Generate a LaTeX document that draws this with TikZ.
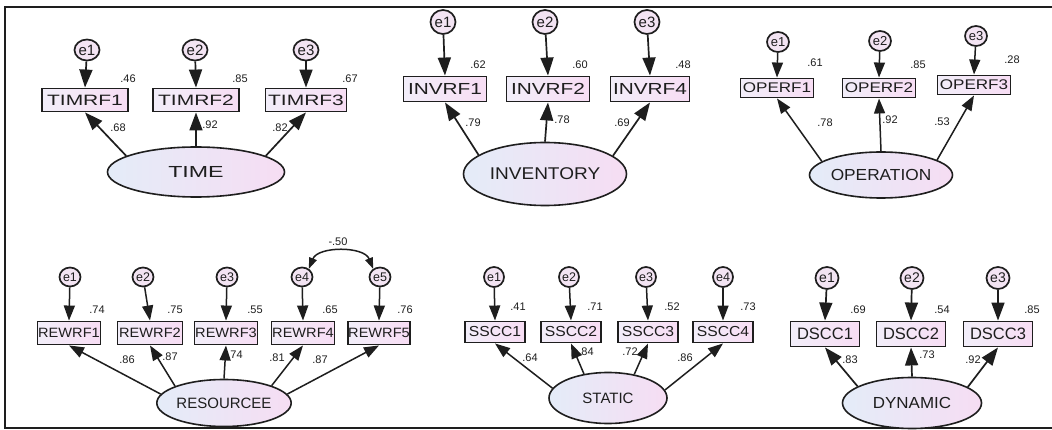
\documentclass[tikz,border=0pt]{standalone}
\usepackage{fontspec}
\setmainfont{Liberation Sans}
\usetikzlibrary{arrows.meta,shapes.geometric}
\definecolor{boxL}{HTML}{F2EEF9}
\definecolor{boxR}{HTML}{F7DDF4}
\definecolor{ellL}{HTML}{E4ECF8}
\definecolor{ellR}{HTML}{F6DDF3}
\definecolor{errC}{HTML}{F3E4F3}
\definecolor{ink}{HTML}{1E1E1E}
\newcommand{\sx}[2]{\scalebox{#1}[1]{#2}}
\newcommand{\fsz}[1]{\fontsize{#1}{#1}\selectfont}
\tikzset{
  obs/.style={draw=ink, line width=1.9pt, left color=boxL, right color=boxR, inner sep=0pt, text=ink},
  lat/.style={ellipse, draw=ink, line width=1.6pt, left color=ellL, right color=ellR, inner sep=0pt, text=ink},
  err/.style={ellipse, draw=ink, line width=1.7pt, fill=errC, inner sep=0pt, text=ink},
  arr/.style={draw=ink, line width=1.7pt, -{Triangle[length=18pt,width=13pt]}},
  arrs/.style={draw=ink, line width=1.5pt, -{Triangle[length=15pt,width=11pt]}},
  cov/.style={draw=ink, line width=1.5pt, {Triangle[length=11pt,width=8pt]}-{Triangle[length=11pt,width=8pt]}},
  num/.style={inner sep=0pt, text=ink, font=\fsz{11}},
}
\begin{document}
\begin{tikzpicture}[x=1pt,y=-1pt]
\useasboundingbox (0,0) rectangle (1052,430);
\fill[white] (0,0) rectangle (1052,430);
\draw[line width=2.2pt, ink] (1052,7) -- (5,7) -- (5,428) -- (1052,428);

% ---------------- Group 1: TIME
\tikzset{g1box/.style={obs, minimum width=86pt, minimum height=23pt, font=\fsz{15}},
         g1err/.style={err, minimum width=25pt, minimum height=21pt, font=\fsz{15}}}
\node[g1err] (ta) at (87,50) {e1};
\node[g1err] (tb) at (195,50) {e2};
\node[g1err] (tc) at (306,50) {e3};
\node[g1box] (t1) at (85,100) {\sx{1.4}{TIMRF1}};
\node[g1box] (t2) at (196,100) {\sx{1.4}{TIMRF2}};
\node[g1box, minimum width=81pt] (t3) at (306,100) {\sx{1.4}{TIMRF3}};
\node[lat, minimum width=177pt, minimum height=50pt, font=\fsz{16}] (T) at (196,172) {\sx{1.45}{TIME}};
\draw[arr] (ta) -- (t1.north);
\draw[arr] (tb) -- (t2.north);
\draw[arr] (tc) -- (t3.north);
\draw[arr] (T.167) -- (t1.south);
\draw[arr] (T.north) -- (t2.south);
\draw[arr] (T.13) -- (t3.south);
\node[num] (nt1) at (128,79) {.46};
\node[num] (nt2) at (240,79) {.85};
\node[num] (nt3) at (350,79) {.67};
\node[num] (nt4) at (118,128) {.68};
\node[num] (nt5) at (210,125) {.92};
\node[num] (nt6) at (280,128) {.82};

% ---------------- Group 2: INVENTORY
\tikzset{g2box/.style={obs, minimum width=83pt, minimum height=25pt, font=\fsz{16}},
         g2err/.style={err, minimum width=25pt, minimum height=24pt, font=\fsz{15}}}
\node[g2err] (ia) at (443,22) {e1};
\node[g2err] (ib) at (545,22) {e2};
\node[g2err] (ic) at (647,22) {e3};
\node[g2box] (i1) at (445,89) {\sx{1.3}{INVRF1}};
\node[g2box] (i2) at (548,89) {\sx{1.3}{INVRF2}};
\node[g2box, minimum width=79pt] (i3) at (650,89) {\sx{1.3}{INVRF4}};
\node[lat, minimum width=163pt, minimum height=63pt, font=\fsz{17}] (I) at (545,174) {\sx{1.12}{INVENTORY}};
\draw[arr] (ia) -- (i1.north);
\draw[arr] (ib) -- (i2.north);
\draw[arr] (ic) -- (i3.north);
\draw[arr] (I.164) -- (i1.south);
\draw[arr] (I.north) -- (i2.south);
\draw[arr] (I.15) -- (i3.south);
\node[num] (ni1) at (478,65) {.62};
\node[num] (ni2) at (580,65) {.60};
\node[num] (ni3) at (683,65) {.48};
\node[num] (ni4) at (473,123) {.79};
\node[num] (ni5) at (562,120) {.78};
\node[num] (ni6) at (622,123) {.69};

% ---------------- Group 3: OPERATION
\tikzset{g3box/.style={obs, minimum width=73pt, minimum height=19pt, font=\fsz{14}},
         g3err/.style={err, minimum width=22pt, minimum height=20pt, font=\fsz{13}}}
\node[g3err] (oa) at (778,42) {e1};
\node[g3err] (ob) at (880,41) {e2};
\node[g3err] (oc) at (976,36) {e3};
\node[g3box] (o1) at (777,88) {\sx{1.22}{OPERF1}};
\node[g3box] (o2) at (879,88) {\sx{1.22}{OPERF2}};
\node[g3box] (o3) at (974,85) {\sx{1.22}{OPERF3}};
\node[lat, minimum width=143pt, minimum height=46pt, font=\fsz{16}] (O) at (881,175) {\sx{1.08}{OPERATION}};
\draw[arrs] (oa) -- (o1.north);
\draw[arrs] (ob) -- (o2.north);
\draw[arrs] (oc) -- (o3.north);
\draw[arrs] (O.167) -- (o1.south);
\draw[arrs] (O.north) -- (o2.south);
\draw[arrs] (O.15) -- (o3.south);
\node[num] (no1) at (815,63) {.61};
\node[num] (no2) at (918,65) {.85};
\node[num] (no3) at (1012,60) {.28};
\node[num] (no4) at (825,123) {.78};
\node[num] (no5) at (890,120) {.92};
\node[num] (no6) at (942,122) {.53};

% ---------------- Group 4: RESOURCEE
\tikzset{g4box/.style={obs, minimum width=63pt, minimum height=23pt, font=\fsz{13.5}},
         g4err/.style={err, minimum width=21pt, minimum height=19pt, font=\fsz{12.5}}}
\node[g4err] (ra) at (70,277) {e1};
\node[g4err] (rb) at (143,277) {e2};
\node[g4err] (rc) at (227,277) {e3};
\node[g4err] (rd) at (302,277) {e4};
\node[g4err] (re) at (380,277) {e5};
\node[g4box] (r1) at (69,333) {\sx{1.08}{REWRF1}};
\node[g4box, minimum width=65pt] (r2) at (150,333) {\sx{1.08}{REWRF2}};
\node[g4box] (r3) at (226,333) {\sx{1.08}{REWRF3}};
\node[g4box] (r4) at (303,333) {\sx{1.08}{REWRF4}};
\node[g4box, minimum width=60pt] (r5) at (379,333) {\sx{1.08}{REWRF5}};
\node[lat, minimum width=117pt, minimum height=47pt, font=\fsz{15}] (R) at (224,403) {RESOURCEE};
\draw[arrs] (ra) -- (r1.north);
\draw[arrs] (rb) -- (r2.north);
\draw[arrs] (rc) -- (r3.north);
\draw[arrs] (rd) -- (r4.north);
\draw[arrs] (re) -- (r5.north);
\draw[arrs] (R.172) -- (r1.south);
\draw[arrs] (R.161) -- (r2.south);
\draw[arrs] (R.north) -- (r3.south);
\draw[arrs] (R.20) -- (r4.south);
\draw[arrs] (R.8) -- (r5.south);
\draw[cov] (rd.50) .. controls (318,246) and (364,246) .. (re.130);
\node[num] (nr0) at (338,242) {-.50};
\node[num] (nr1) at (97,310) {.74};
\node[num] (nr2) at (175,310) {.75};
\node[num] (nr3) at (255,310) {.55};
\node[num] (nr4) at (330,310) {.65};
\node[num] (nr5) at (405,310) {.76};
\node[num] (nr6) at (127,360) {.86};
\node[num] (nr7) at (170,357) {.87};
\node[num] (nr8) at (235,355) {.74};
\node[num] (nr9) at (277,358) {.81};
\node[num] (nr10) at (320,360) {.87};

% ---------------- Group 5: STATIC
\tikzset{g5box/.style={obs, minimum width=60pt, minimum height=21pt, font=\fsz{14.5}},
         g5err/.style={err, minimum width=20pt, minimum height=20pt, font=\fsz{12.5}}}
\node[g5err] (sa) at (494,277) {e1};
\node[g5err] (sb) at (569,277) {e2};
\node[g5err] (sc) at (646,277) {e3};
\node[g5err] (sd) at (723,277) {e4};
\node[g5box] (s1) at (495,332) {\sx{1.08}{SSCC1}};
\node[g5box] (s2) at (571,332) {\sx{1.08}{SSCC2}};
\node[g5box] (s3) at (648,332) {\sx{1.08}{SSCC3}};
\node[g5box] (s4) at (723,332) {\sx{1.08}{SSCC4}};
\node[lat, minimum width=118pt, minimum height=51pt, font=\fsz{15}] (S) at (608,398) {STATIC};
\draw[arrs] (sa) -- (s1.north);
\draw[arrs] (sb) -- (s2.north);
\draw[arrs] (sc) -- (s3.north);
\draw[arrs] (sd) -- (s4.north);
\draw[arrs] (S.170) -- (s1.south);
\draw[arrs] (S.135) -- (s2.south);
\draw[arrs] (S.42) -- (s3.south);
\draw[arrs] (S.8) -- (s4.south);
\node[num] (ns1) at (518,307) {.41};
\node[num] (ns2) at (595,307) {.71};
\node[num] (ns3) at (672,307) {.52};
\node[num] (ns4) at (748,307) {.73};
\node[num] (ns5) at (530,358) {.64};
\node[num] (ns6) at (586,352) {.84};
\node[num] (ns7) at (630,352) {.72};
\node[num] (ns8) at (685,358) {.86};

% ---------------- Group 6: DYNAMIC
\tikzset{g6box/.style={obs, minimum width=69pt, minimum height=25pt, font=\fsz{16.5}},
         g6err/.style={err, minimum width=23pt, minimum height=22pt, font=\fsz{14}}}
\node[g6err] (da) at (827,278) {e1};
\node[g6err] (db) at (912,278) {e2};
\node[g6err] (dc) at (998,278) {e3};
\node[g6box] (d1) at (825,334) {DSCC1};
\node[g6box] (d2) at (911,334) {DSCC2};
\node[g6box] (d3) at (998,334) {DSCC3};
\node[lat, minimum width=139pt, minimum height=51pt, font=\fsz{16}] (D) at (912,403) {\sx{1.06}{DYNAMIC}};
\draw[arr] (da) -- (d1.north);
\draw[arr] (db) -- (d2.north);
\draw[arr] (dc) -- (d3.north);
\draw[arr] (D.163) -- (d1.south);
\draw[arr] (D.north) -- (d2.south);
\draw[arr] (D.16) -- (d3.south);
\node[num] (nd1) at (858,310) {.69};
\node[num] (nd2) at (942,310) {.54};
\node[num] (nd3) at (1032,310) {.85};
\node[num] (nd4) at (850,360) {.83};
\node[num] (nd5) at (927,355) {.73};
\node[num] (nd6) at (973,360) {.92};
\end{tikzpicture}
\end{document}
